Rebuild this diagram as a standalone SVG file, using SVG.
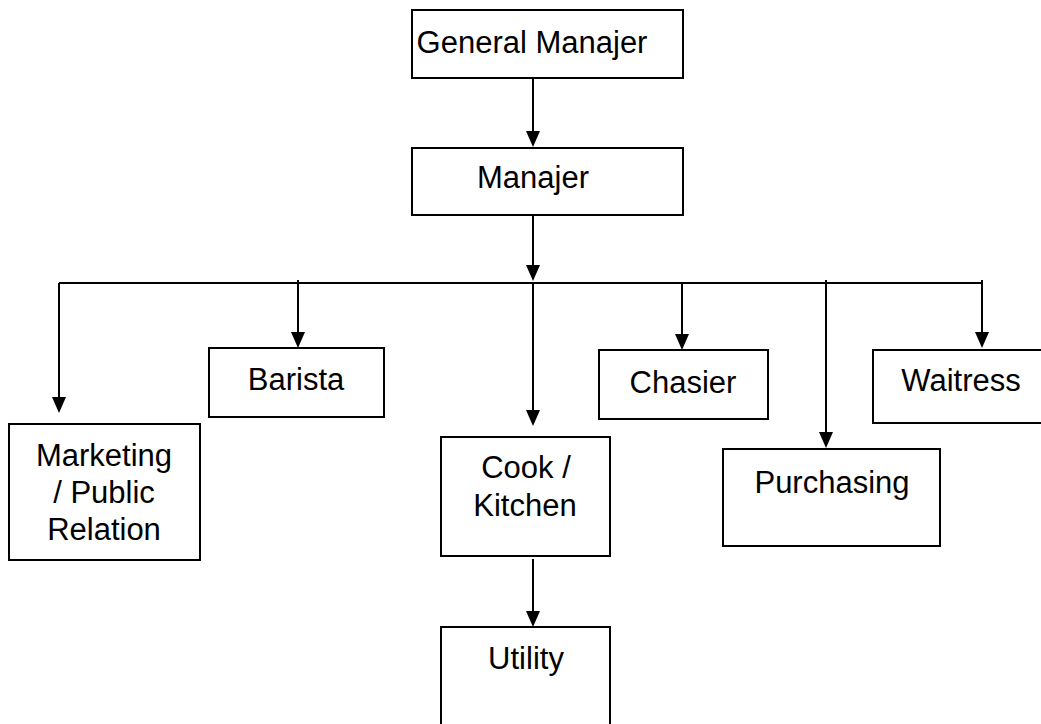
<svg xmlns="http://www.w3.org/2000/svg" width="1041" height="724" viewBox="0 0 1041 724">
<defs>
<style>
.box{fill:#fff;stroke:#000;stroke-width:2}
.t{font-family:"Liberation Sans",Arial,sans-serif;font-size:31px;fill:#000;text-anchor:middle}
.c{fill:none;stroke:#000;stroke-width:2}
.h{fill:#000}
</style>
</defs>
<rect width="1041" height="724" fill="#fff"/>
<g id="connectors">
<path class="c" d="M533,78 V133"/>
<polygon class="h" points="526,131 540,131 533,147"/>
<path class="c" d="M533,215 V268"/>
<polygon class="h" points="526,265 540,265 533,281"/>
<path class="c" d="M59,283 H983"/>
<path class="c" d="M59,283 V398"/>
<polygon class="h" points="52,397 66,397 59,413"/>
<path class="c" d="M298,280 V334"/>
<polygon class="h" points="291,332 305,332 298,348"/>
<path class="c" d="M533,283 V412"/>
<polygon class="h" points="526,410 540,410 533,426"/>
<path class="c" d="M682,283 V336"/>
<polygon class="h" points="675,334 689,334 682,350"/>
<path class="c" d="M826,280 V434"/>
<polygon class="h" points="819,432 833,432 826,448"/>
<path class="c" d="M982,280 V334"/>
<polygon class="h" points="975,332 989,332 982,348"/>
<path class="c" d="M533,559 V612"/>
<polygon class="h" points="526,611 540,611 533,627"/>
</g>
<g id="general-manajer"><rect class="box" x="412" y="10" width="271" height="68"/><text class="t" x="532" y="53">General Manajer</text></g>
<g id="manajer"><rect class="box" x="412" y="148" width="271" height="67"/><text class="t" x="533" y="188">Manajer</text></g>
<g id="marketing"><rect class="box" x="9" y="424" width="191" height="136"/><text class="t" x="104" y="466">Marketing</text><text class="t" x="104" y="503">/ Public</text><text class="t" x="104" y="540">Relation</text></g>
<g id="barista"><rect class="box" x="209" y="348" width="175" height="69"/><text class="t" x="296" y="390">Barista</text></g>
<g id="cook"><rect class="box" x="441" y="437" width="169" height="119"/><text class="t" x="526" y="478">Cook /</text><text class="t" x="525" y="516">Kitchen</text></g>
<g id="chasier"><rect class="box" x="599" y="350" width="169" height="69"/><text class="t" x="683" y="393">Chasier</text></g>
<g id="purchasing"><rect class="box" x="723" y="449" width="217" height="97"/><text class="t" x="832" y="493">Purchasing</text></g>
<g id="waitress"><rect class="box" x="873" y="350" width="180" height="73"/><text class="t" x="961" y="391">Waitress</text></g>
<g id="utility"><rect class="box" x="441" y="627" width="169" height="110"/><text class="t" x="526" y="669">Utility</text></g>
</svg>
